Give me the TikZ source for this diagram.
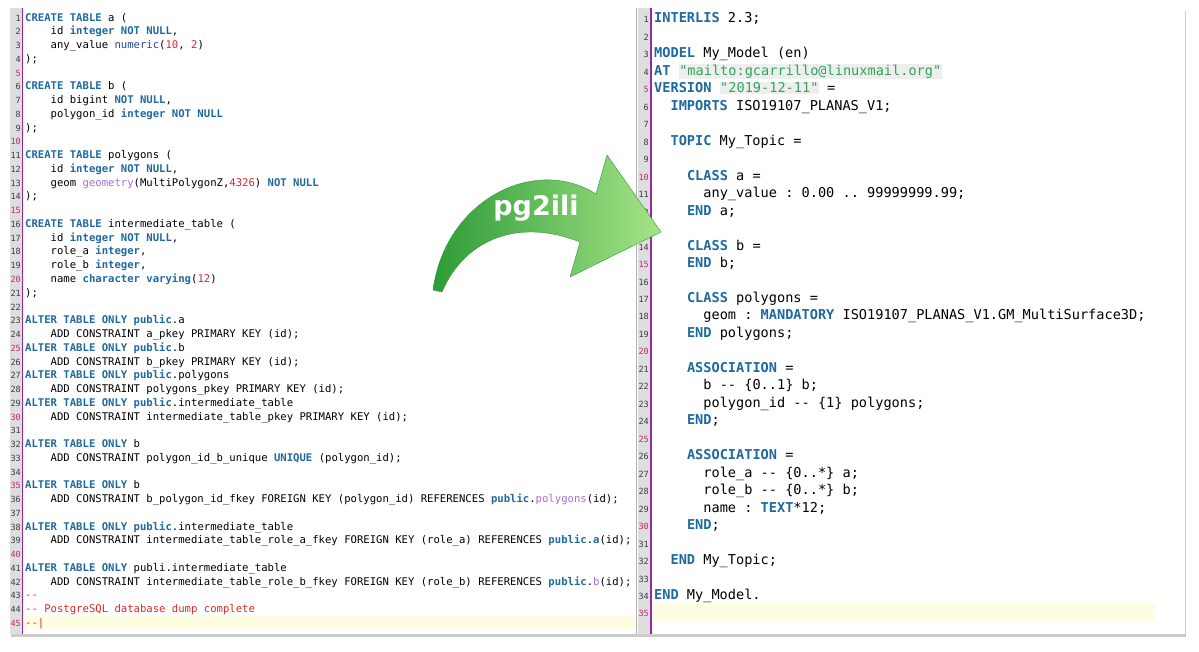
\documentclass[tikz,border=0pt]{standalone}
\usepackage{fontspec}
\usepackage{tikz}
\usetikzlibrary{shadows}
\newfontfamily\codefont{DejaVu Sans Mono}
\newfontfamily\arrowfont{DejaVu Sans}
\definecolor{kwblue}{RGB}{30,105,160}
\definecolor{tyblue}{RGB}{40,70,150}
\definecolor{numred}{RGB}{220,40,40}
\definecolor{geopurple}{RGB}{165,110,215}
\definecolor{strgreen}{RGB}{50,165,90}
\definecolor{strbg}{RGB}{238,238,238}
\definecolor{gutter}{RGB}{222,222,222}
\definecolor{gutterline}{RGB}{150,40,160}
\definecolor{numgray}{RGB}{60,60,60}
\definecolor{numpink}{RGB}{190,40,110}
\definecolor{curline}{RGB}{255,253,225}
\definecolor{arrowdark}{RGB}{45,155,55}
\definecolor{arrowlight}{RGB}{165,228,135}
\setlength{\fboxsep}{0.5pt}
\frenchspacing
\newcommand{\kw}[1]{\textcolor{kwblue}{\bfseries #1}}
\newcommand{\ty}[1]{\textcolor{tyblue}{#1}}
\newcommand{\nm}[1]{\textcolor{numred}{#1}}
\newcommand{\pu}[1]{\textcolor{geopurple}{#1}}
\newcommand{\st}[1]{\colorbox{strbg}{\textcolor{strgreen}{#1}}}
% left listing: line, indent (chars), text
\newcommand{\lsql}[3]{\node[sqlcode] (sql#1) at ({25+#2*6.38},{7.5+#1*13.75}) {#3};}
% right listing
\newcommand{\rili}[3]{\node[ilicode] (ili#1) at ({654+#2*8.2},{5.5+#1*17.47}) {#3};}

\begin{document}
\begin{tikzpicture}[x=1pt,y=-1pt,
    sqlcode/.style={anchor=base west, inner sep=0, font=\codefont\fontsize{10.6}{12}\selectfont},
    ilicode/.style={anchor=base west, inner sep=0, font=\codefont\fontsize{13.6}{15}\selectfont},
    linenum/.style={anchor=base east, inner sep=0, font=\codefont\fontsize{8.5}{9}\selectfont}]
    \useasboundingbox (0,0) rectangle (1199,652);
    % panels
    \fill [white, drop shadow={shadow xshift=1pt, shadow yshift=-3pt, opacity=0.4}] (10,8) rectangle (1185,634);
    \fill [gutter] (10,8) rectangle (22,634);
    \fill [gutter] (638,8) rectangle (650,634);
    \draw [gray!60] (636,8) -- (636,634);
    \fill [curline] (23,616) rectangle (635,629);
    \fill [curline] (652,603) rectangle (1155,621);
    \draw [gutterline, line width=1.5pt] (22.5,8) -- (22.5,634);
    \draw [gutterline, line width=1.5pt] (651,8) -- (651,634);
    % line numbers
    \foreach \i in {1,...,45} {
        \pgfmathtruncatemacro\m{mod(\i,5)}
        \ifnum\m=0 \def\c{numpink}\else\def\c{numgray}\fi
        \node[linenum, text=\c] (ln\i) at (21,{7.5+\i*13.75}) {\i};
    }
    \foreach \i in {1,...,35} {
        \pgfmathtruncatemacro\m{mod(\i,5)}
        \ifnum\m=0 \def\c{numpink}\else\def\c{numgray}\fi
        \node[linenum, text=\c] (rn\i) at (649,{5.5+\i*17.47}) {\i};
    }
    % SQL dump
    \lsql{1}{0}{\kw{CREATE TABLE} a (}
    \lsql{2}{4}{id \kw{integer NOT NULL},}
    \lsql{3}{4}{any\_value \ty{numeric}(\nm{10}, \nm{2})}
    \lsql{4}{0}{);}
    \lsql{6}{0}{\kw{CREATE TABLE} b (}
    \lsql{7}{4}{id bigint \kw{NOT NULL},}
    \lsql{8}{4}{polygon\_id \kw{integer NOT NULL}}
    \lsql{9}{0}{);}
    \lsql{11}{0}{\kw{CREATE TABLE} polygons (}
    \lsql{12}{4}{id \kw{integer NOT NULL},}
    \lsql{13}{4}{geom \pu{geometry}(MultiPolygonZ,\nm{4326}) \kw{NOT NULL}}
    \lsql{14}{0}{);}
    \lsql{16}{0}{\kw{CREATE TABLE} intermediate\_table (}
    \lsql{17}{4}{id \kw{integer NOT NULL},}
    \lsql{18}{4}{role\_a \kw{integer},}
    \lsql{19}{4}{role\_b \kw{integer},}
    \lsql{20}{4}{name \kw{character varying}(\nm{12})}
    \lsql{21}{0}{);}
    \lsql{23}{0}{\kw{ALTER TABLE ONLY public}.a}
    \lsql{24}{4}{ADD CONSTRAINT a\_pkey PRIMARY KEY (id);}
    \lsql{25}{0}{\kw{ALTER TABLE ONLY public}.b}
    \lsql{26}{4}{ADD CONSTRAINT b\_pkey PRIMARY KEY (id);}
    \lsql{27}{0}{\kw{ALTER TABLE ONLY public}.polygons}
    \lsql{28}{4}{ADD CONSTRAINT polygons\_pkey PRIMARY KEY (id);}
    \lsql{29}{0}{\kw{ALTER TABLE ONLY public}.intermediate\_table}
    \lsql{30}{4}{ADD CONSTRAINT intermediate\_table\_pkey PRIMARY KEY (id);}
    \lsql{32}{0}{\kw{ALTER TABLE ONLY} b}
    \lsql{33}{4}{ADD CONSTRAINT polygon\_id\_b\_unique \kw{UNIQUE} (polygon\_id);}
    \lsql{35}{0}{\kw{ALTER TABLE ONLY} b}
    \lsql{36}{4}{ADD CONSTRAINT b\_polygon\_id\_fkey FOREIGN KEY (polygon\_id) REFERENCES \kw{public}.\pu{polygons}(id);}
    \lsql{38}{0}{\kw{ALTER TABLE ONLY public}.intermediate\_table}
    \lsql{39}{4}{ADD CONSTRAINT intermediate\_table\_role\_a\_fkey FOREIGN KEY (role\_a) REFERENCES \kw{public}.\kw{a}(id);}
    \lsql{41}{0}{\kw{ALTER TABLE ONLY} publi.intermediate\_table}
    \lsql{42}{4}{ADD CONSTRAINT intermediate\_table\_role\_b\_fkey FOREIGN KEY (role\_b) REFERENCES \kw{public}.\pu{b}(id);}
    \lsql{43}{0}{\nm{--}}
    \lsql{44}{0}{\nm{-- PostgreSQL database dump complete}}
    \lsql{45}{0}{\nm{--|}}
    % INTERLIS model
    \rili{1}{0}{\kw{INTERLIS} 2.3;}
    \rili{3}{0}{\kw{MODEL} My\_Model (en)}
    \rili{4}{0}{\kw{AT} \st{"mailto:gcarrillo@linuxmail.org"}}
    \rili{5}{0}{\kw{VERSION} \st{"2019-12-11"} =}
    \rili{6}{2}{\kw{IMPORTS} ISO19107\_PLANAS\_V1;}
    \rili{8}{2}{\kw{TOPIC} My\_Topic =}
    \rili{10}{4}{\kw{CLASS} a =}
    \rili{11}{6}{any\_value : 0.00 .. 99999999.99;}
    \rili{12}{4}{\kw{END} a;}
    \rili{14}{4}{\kw{CLASS} b =}
    \rili{15}{4}{\kw{END} b;}
    \rili{17}{4}{\kw{CLASS} polygons =}
    \rili{18}{6}{geom : \kw{MANDATORY} ISO19107\_PLANAS\_V1.GM\_MultiSurface3D;}
    \rili{19}{4}{\kw{END} polygons;}
    \rili{21}{4}{\kw{ASSOCIATION} =}
    \rili{22}{6}{b -- \{0..1\} b;}
    \rili{23}{6}{polygon\_id -- \{1\} polygons;}
    \rili{24}{4}{\kw{END};}
    \rili{26}{4}{\kw{ASSOCIATION} =}
    \rili{27}{6}{role\_a -- \{0..*\} a;}
    \rili{28}{6}{role\_b -- \{0..*\} b;}
    \rili{29}{6}{name : \kw{TEXT}*12;}
    \rili{30}{4}{\kw{END};}
    \rili{32}{2}{\kw{END} My\_Topic;}
    \rili{34}{0}{\kw{END} My\_Model.}
    % arrow
    \shade [left color=arrowdark, right color=arrowlight, draw=arrowdark, line join=round]
        (433,290) .. controls (445,200) and (535,155) .. (596,194) -- (607,155) -- (661,232)
        -- (570,277) -- (580,242) .. controls (520,218) and (465,238) .. (442,292) -- cycle;
    \node[text=white, font=\arrowfont\bfseries\fontsize{27}{30}\selectfont] (pgili) at (536,208) {pg2ili};
\end{tikzpicture}
\end{document}
